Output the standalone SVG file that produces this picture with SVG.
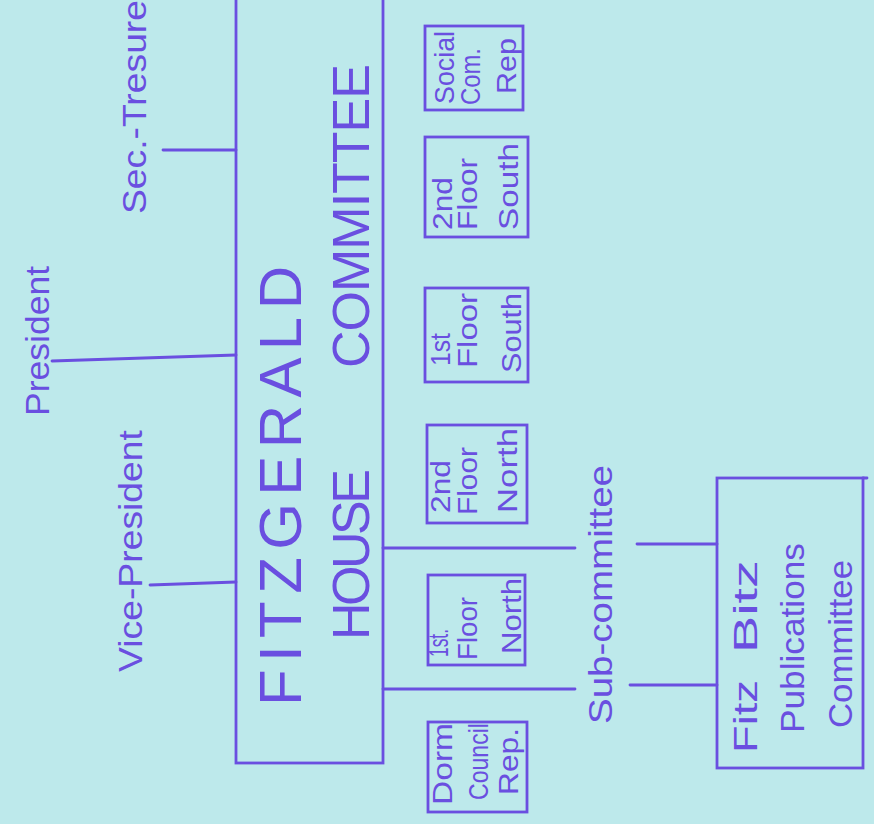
<svg xmlns="http://www.w3.org/2000/svg" width="874" height="824" viewBox="0 0 874 824">
<style>
.ink{fill:none;stroke:#6a4fe0;stroke-width:2.8;stroke-linecap:round}
.t{font-family:"Liberation Sans","DejaVu Sans",sans-serif;fill:#6a4fe0}
.big{font-size:60px}
.mid{font-size:52px}
.lab{font-size:34px}
.sm{font-size:28px}
</style>
<rect width="874" height="824" fill="#bde9eb"/>
<g id="connectors">
<path class="ink" d="M163 150 H236"/>
<path class="ink" d="M52 361 L236 355"/>
<path class="ink" d="M150 585 L236 582"/>
<path class="ink" d="M383 548 H575"/>
<path class="ink" d="M637 544 H717"/>
<path class="ink" d="M383 689 H575"/>
<path class="ink" d="M630 685 H717"/>
</g>
<g id="house-committee">
<rect class="ink" x="236" y="-10" width="147" height="773"/>
<text class="t big" transform="translate(301 706) rotate(-90)" textLength="440" lengthAdjust="spacing">FITZGERALD</text>
<text class="t mid" transform="translate(369 640) rotate(-90)" textLength="171" lengthAdjust="spacing">HOUSE</text>
<text class="t mid" transform="translate(369 368) rotate(-90)" textLength="304" lengthAdjust="spacing">COMMITTEE</text>
</g>
<g id="sec-tresure">
<text class="t lab" transform="translate(146 214) rotate(-90)" textLength="214" lengthAdjust="spacingAndGlyphs">Sec.-Tresure</text>
</g>
<g id="president">
<text class="t lab" transform="translate(49 416) rotate(-90)" textLength="150" lengthAdjust="spacingAndGlyphs">President</text>
</g>
<g id="vice-president">
<text class="t lab" transform="translate(142 672) rotate(-90)" textLength="242" lengthAdjust="spacingAndGlyphs">Vice-President</text>
</g>
<g id="sub-committee">
<text class="t lab" transform="translate(612 724) rotate(-90)" textLength="259" lengthAdjust="spacingAndGlyphs">Sub-committee</text>
</g>
<g id="social-com-rep">
<rect class="ink" x="425" y="26" width="98" height="84"/>
<text class="t sm" transform="translate(454 104) rotate(-90)" textLength="73" lengthAdjust="spacingAndGlyphs">Social</text>
<text class="t sm" transform="translate(480 105) rotate(-90)" textLength="57" lengthAdjust="spacingAndGlyphs">Com.</text>
<text class="t sm" transform="translate(516 94) rotate(-90)" textLength="56" lengthAdjust="spacingAndGlyphs">Rep</text>
</g>
<g id="2nd-floor-south">
<rect class="ink" x="425" y="137" width="103" height="100"/>
<text class="t sm" transform="translate(452 230) rotate(-90)" textLength="53" lengthAdjust="spacingAndGlyphs">2nd</text>
<text class="t sm" transform="translate(477 230) rotate(-90)" textLength="72" lengthAdjust="spacingAndGlyphs">Floor</text>
<text class="t sm" transform="translate(518 230) rotate(-90)" textLength="87" lengthAdjust="spacingAndGlyphs">South</text>
</g>
<g id="1st-floor-south">
<rect class="ink" x="425" y="288" width="103" height="94"/>
<text class="t sm" transform="translate(450 366) rotate(-90)" textLength="33" lengthAdjust="spacingAndGlyphs">1st</text>
<text class="t sm" transform="translate(477 368) rotate(-90)" textLength="75" lengthAdjust="spacingAndGlyphs">Floor</text>
<text class="t sm" transform="translate(521 373) rotate(-90)" textLength="80" lengthAdjust="spacingAndGlyphs">South</text>
</g>
<g id="2nd-floor-north">
<rect class="ink" x="427" y="425" width="100" height="98"/>
<text class="t sm" transform="translate(450 513) rotate(-90)" textLength="53" lengthAdjust="spacingAndGlyphs">2nd</text>
<text class="t sm" transform="translate(477 515) rotate(-90)" textLength="68" lengthAdjust="spacingAndGlyphs">Floor</text>
<text class="t sm" transform="translate(517 513) rotate(-90)" textLength="85" lengthAdjust="spacingAndGlyphs">North</text>
</g>
<g id="1st-floor-north">
<rect class="ink" x="428" y="575" width="97" height="90"/>
<text class="t sm" transform="translate(448 657) rotate(-90)" textLength="28" lengthAdjust="spacingAndGlyphs">1st.</text>
<text class="t sm" transform="translate(477 660) rotate(-90)" textLength="63" lengthAdjust="spacingAndGlyphs">Floor</text>
<text class="t sm" transform="translate(521 654) rotate(-90)" textLength="76" lengthAdjust="spacingAndGlyphs">North</text>
</g>
<g id="dorm-council-rep">
<rect class="ink" x="428" y="722" width="99" height="90"/>
<text class="t sm" transform="translate(452 805) rotate(-90)" textLength="82" lengthAdjust="spacingAndGlyphs">Dorm</text>
<text class="t sm" transform="translate(488 800) rotate(-90)" textLength="77" lengthAdjust="spacingAndGlyphs">Council</text>
<text class="t sm" transform="translate(518 795) rotate(-90)" textLength="67" lengthAdjust="spacingAndGlyphs">Rep.</text>
</g>
<g id="fitz-bitz">
<rect class="ink" x="717" y="478" width="146" height="290"/>
<path class="ink" d="M863 478 H867"/>
<text class="t lab" transform="translate(757 753) rotate(-90)" textLength="73" lengthAdjust="spacingAndGlyphs">Fitz</text>
<text class="t lab" transform="translate(757 653) rotate(-90)" textLength="93" lengthAdjust="spacingAndGlyphs">Bitz</text>
<text class="t lab" transform="translate(804 733) rotate(-90)" textLength="190" lengthAdjust="spacingAndGlyphs">Publications</text>
<text class="t lab" transform="translate(852 728) rotate(-90)" textLength="168" lengthAdjust="spacingAndGlyphs">Committee</text>
</g>
</svg>
